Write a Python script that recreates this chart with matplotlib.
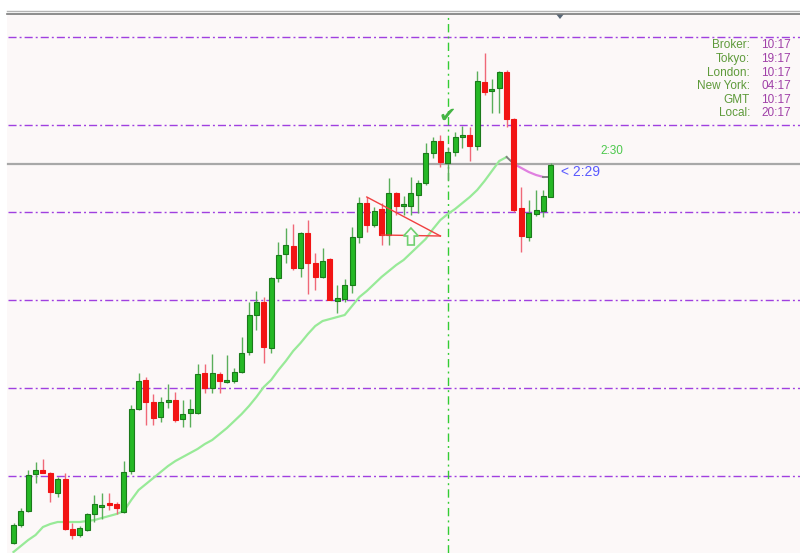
import matplotlib
matplotlib.use("Agg")
import matplotlib.pyplot as plt
from matplotlib.patches import Rectangle, Polygon
from matplotlib.lines import Line2D

# ------------------------------------------------------------------------------
# Chart data (price points, one entry per bar)
# ------------------------------------------------------------------------------
opens = [10, 28, 42, 79, 83, 80, 60, 74, 24, 18, 23, 39, 46, 50, 49, 41, 82, 144,
         173, 151, 136, 151, 153, 134, 140, 140, 180, 165, 179, 171, 172, 181, 201,
         238, 251, 205, 275, 299, 307, 285, 320, 290, 276, 294, 252, 254, 268, 316,
         350, 328, 344, 318, 360, 347, 347, 358, 370, 400, 412, 390, 401, 416, 418,
         407, 471, 462, 465, 481, 434, 345, 316, 339, 342, 356]
highs = [30, 45, 83, 91, 94, 81, 76, 80, 30, 27, 40, 58, 60, 60, 51, 92, 148, 180,
         176, 159, 156, 169, 161, 153, 154, 189, 189, 199, 181, 198, 185, 216, 251,
         262, 256, 276, 311, 325, 329, 321, 333, 300, 305, 295, 268, 274, 326, 356,
         356, 346, 350, 375, 361, 357, 376, 373, 410, 416, 418, 406, 421, 427, 426,
         482, 500, 474, 482, 483, 435, 366, 353, 363, 363, 390]
lows = [9, 26, 41, 70, 80, 51, 56, 23, 14, 16, 22, 31, 34, 43, 39, 40, 79, 143,
        128, 128, 131, 145, 131, 126, 126, 139, 160, 160, 160, 170, 170, 180, 198,
        223, 190, 200, 271, 290, 283, 276, 259, 263, 275, 253, 240, 251, 260, 310,
        321, 326, 308, 308, 338, 338, 338, 340, 368, 395, 386, 373, 397, 405, 392,
        403, 458, 440, 440, 426, 341, 301, 312, 337, 336, 356]
closes = [28, 42, 78, 83, 80, 61, 74, 24, 18, 25, 39, 49, 48, 48, 45, 81, 144, 172,
          151, 135, 151, 153, 133, 139, 144, 179, 165, 180, 172, 173, 181, 200, 238,
          251, 206, 275, 298, 308, 285, 320, 290, 276, 292, 253, 255, 268, 316, 350,
          328, 342, 318, 360, 347, 349, 360, 370, 400, 412, 391, 401, 416, 418, 407,
          472, 461, 464, 481, 434, 343, 317, 340, 343, 357, 388]

# moving average (green up to bar 67, then the violet tail)
ma_values = [1, 7, 13, 18, 26, 29, 31, 31, 31, 31, 32, 33, 35, 37, 39, 42, 53, 63,
             69, 75, 81, 87, 92, 96, 100, 104, 109, 113, 119, 125, 132, 139, 147,
             156, 166, 173, 183, 192, 202, 210, 219, 227, 232, 234, 236, 238, 247,
             256, 262, 269, 276, 282, 288, 293, 300, 307, 314, 324, 333, 339, 344,
             350, 356, 363, 372, 382, 392, 396, 389, 385, 381, 378, 376, 376]
ma_green_end = 67
ma_violet_start, ma_violet_end = 68, 72

levels = [77, 165, 253, 341, 428, 516]
bid_price = 389
marker_bar = 59

tri_bars = [48, 58, 50]
tri_prices = [356, 317, 318]
arrow_bar = 54
arrow_prices = [325, 317, 308]   # tip, head base, tail

clock_labels = ["Broker:", "Tokyo:", "London:", "New York:", "GMT", "Local:"]
clock_times = ["10:17", "19:17", "10:17", "04:17", "10:17", "20:17"]

W, H = 800, 553
fig = plt.figure(figsize=(8, 5.53), dpi=100, facecolor="white")

# chart background
fig.patches.append(Rectangle((7 / W, 0), 1, (H - 14) / H, transform=fig.transFigure,
                             facecolor="#fcf8f8", edgecolor="none", zorder=-10))
# top border lines and shift marker
fig.add_artist(Line2D([7 / W, 1], [1 - 10.5 / H] * 2, transform=fig.transFigure,
                      color="#b4b4b4", lw=1.0))
fig.add_artist(Line2D([7 / W, 1], [1 - 13.5 / H] * 2, transform=fig.transFigure,
                      color="#7a7a7a", lw=1.2))
fig.patches.append(Polygon([(556 / W, 1 - 14 / H), (564 / W, 1 - 14 / H), (560 / W, 1 - 19 / H)],
                           closed=True, transform=fig.transFigure,
                           facecolor="#5a6878", edgecolor="none"))

ax = fig.add_axes([0, 0, 1, 1])
ax.set_facecolor("none")
ax.set_axis_off()
ax.set_zorder(1)
step = 7.36
ax.set_xlim(-13.5 / step, (W - 13.5) / step)
ax.set_ylim(0, H)

# dash-dot levels
for lv in levels:
    ax.plot([-0.8, 120], [lv, lv], color="#a040e0", lw=1.0, ls=(0, (5.8, 2.2, 1.4, 2.2)), zorder=1)
ax.plot([-0.8, 120], [bid_price, bid_price], color="#a8a8a8", lw=1.6, zorder=1)
ax.plot([marker_bar, marker_bar], [0, H - 14], color="#33cc33", lw=1.0, ls=(0, (6, 3, 1.4, 3)), zorder=1)

# moving average
bars = list(range(len(ma_values)))
ax.plot(bars[:ma_green_end + 1], ma_values[:ma_green_end + 1], color="#98ea98", lw=1.6, zorder=2)
ax.plot(bars[ma_green_end:ma_violet_start + 1], ma_values[ma_green_end:ma_violet_start + 1],
        color="#808080", lw=1.4, zorder=2)
ax.plot(bars[ma_violet_start:ma_violet_end + 1], ma_values[ma_violet_start:ma_violet_end + 1],
        color="#e080e0", lw=1.6, zorder=2)
ax.plot(bars[ma_violet_end:], ma_values[ma_violet_end:], color="#808080", lw=1.4, zorder=2)

# candles
for i, (o, h, l, c) in enumerate(zip(opens, highs, lows, closes)):
    up = c >= o
    wick = "#5aae5a" if up else "#f06878"
    ax.vlines(i, l, h, color=wick, lw=1.0, zorder=3)
    body = max(abs(c - o), 1.6)
    bottom = min(o, c) if abs(c - o) >= 1.6 else (o + c) / 2 - 0.8
    ax.bar(i, body, bottom=bottom, width=0.68,
           color="#25b825" if up else "#f21414",
           edgecolor="#1b7a1b" if up else "#f21414", lw=0.8, zorder=4)

# triangle pattern
ax.plot([tri_bars[0], tri_bars[1]], [tri_prices[0], tri_prices[1]], color="#f04040", lw=1.0, zorder=5)
ax.plot([tri_bars[2], tri_bars[1]], [tri_prices[2], tri_prices[1]], color="#f04040", lw=1.0, zorder=5)

# hollow up arrow
tip, base, tail = arrow_prices
arrow = [(arrow_bar, tip), (arrow_bar + 1.0, base), (arrow_bar + 0.45, base),
         (arrow_bar + 0.45, tail), (arrow_bar - 0.45, tail), (arrow_bar - 0.45, base),
         (arrow_bar - 1.0, base)]
ax.add_patch(Polygon(arrow, closed=True, facecolor="#fcf8f8", edgecolor="#70d070", lw=1.2, zorder=6))

# check mark above the marker bar
ax.text(marker_bar, 437, "\u2714", color="#44b444", fontsize=15, ha="center", va="center", zorder=6)

# timer labels
ax.text(81.3, 402, "2:30", color="#4cc84c", fontsize=8.5, ha="center", va="center",
        family="Liberation Sans")
ax.text(74.4, 381, "< 2:29", color="#5a5aff", fontsize=10, ha="left", va="center",
        family="Liberation Sans")

# clock table
rows_y = [45, 59, 73, 86, 100, 113]
for lab, t, y in zip(clock_labels, clock_times, rows_y):
    fig.text(750 / W, 1 - y / H, lab, color="#5e9a3a", fontsize=8.5, ha="right", va="center",
             family="Liberation Sans")
    fig.text(791 / W, 1 - y / H, t, color="#a040a8", fontsize=8.5, ha="right", va="center",
             family="Liberation Sans")

fig.savefig("out.png", dpi=100, facecolor="white")
